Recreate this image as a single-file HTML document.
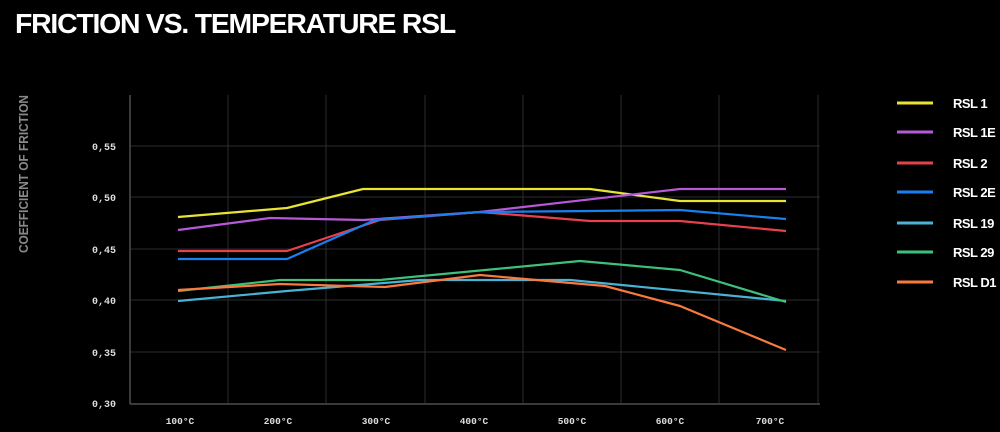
<!DOCTYPE html>
<html><head><meta charset="utf-8"><style>
html,body{margin:0;padding:0;background:#000;width:1000px;height:432px;overflow:hidden}
</style></head><body>
<svg width="1000" height="432" xmlns="http://www.w3.org/2000/svg" font-family="Liberation Sans, sans-serif">
<rect width="1000" height="432" fill="#000"/>
<text x="15" y="33" fill="#fff" font-size="28" font-weight="bold" letter-spacing="-1.2" textLength="440" lengthAdjust="spacingAndGlyphs">FRICTION VS. TEMPERATURE RSL</text>
<text transform="translate(28,253) rotate(-90)" fill="#8a8a8a" font-size="12.5" font-weight="bold" textLength="158" lengthAdjust="spacingAndGlyphs">COEFFICIENT OF FRICTION</text>
<g stroke="#2a2d31" stroke-width="1">
<line x1="130" y1="146" x2="820" y2="146"/><line x1="130" y1="197" x2="820" y2="197"/><line x1="130" y1="249" x2="820" y2="249"/><line x1="130" y1="300" x2="820" y2="300"/><line x1="130" y1="352" x2="820" y2="352"/>
<line x1="228" y1="95" x2="228" y2="403"/><line x1="326" y1="95" x2="326" y2="403"/><line x1="425" y1="95" x2="425" y2="403"/><line x1="523" y1="95" x2="523" y2="403"/><line x1="621" y1="95" x2="621" y2="403"/><line x1="719" y1="95" x2="719" y2="403"/><line x1="818" y1="95" x2="818" y2="403"/>
</g>
<g stroke="#4a4d52" stroke-width="1.5"><line x1="130" y1="95" x2="130" y2="404"/><line x1="130" y1="404" x2="820" y2="404"/></g>
<g fill="#ddd" font-family="Liberation Mono, monospace" font-size="10" font-weight="bold" text-anchor="end">
<text x="116" y="150">0,55</text><text x="116" y="201">0,50</text><text x="116" y="253">0,45</text><text x="116" y="304">0,40</text><text x="116" y="356">0,35</text><text x="116" y="407">0,30</text>
</g>
<g fill="#ddd" font-family="Liberation Mono, monospace" font-size="9.5" font-weight="bold" text-anchor="middle">
<text x="180" y="424">100°C</text><text x="278" y="424">200°C</text><text x="376" y="424">300°C</text><text x="474" y="424">400°C</text><text x="572" y="424">500°C</text><text x="670" y="424">600°C</text><text x="770" y="424">700°C</text>
</g>
<g fill="none" stroke-width="2.2" stroke-linejoin="round">
<polyline stroke="#e8e334" points="178,217 287,208 363,189 590,189 680,201 786,201"/>
<polyline stroke="#b659d6" points="178,230 270,218 363,220 480,212 680,189 786,189"/>
<polyline stroke="#e8414e" points="178,251 287,251 380,220 480,212 590,221 680,221 786,231"/>
<polyline stroke="#1a7fef" points="178,259 287,259 375,220 480,212 590,211 680,210 786,219"/>
<polyline stroke="#4ab3d5" points="178,301 287,291 420,280 570,280 786,301"/>
<polyline stroke="#3ec07a" points="178,291 280,280 380,280 580,261 680,270 786,302"/>
<polyline stroke="#f97a3f" points="178,290 280,284 385,287 480,275 605,286 680,306 786,350"/>
</g>
<g stroke-width="3">
<line x1="897" y1="103" x2="933" y2="103" stroke="#e8e334"/>
<line x1="897" y1="132" x2="933" y2="132" stroke="#b659d6"/>
<line x1="897" y1="163" x2="933" y2="163" stroke="#e8414e"/>
<line x1="897" y1="192" x2="933" y2="192" stroke="#1a7fef"/>
<line x1="897" y1="223" x2="933" y2="223" stroke="#4ab3d5"/>
<line x1="897" y1="252" x2="933" y2="252" stroke="#3ec07a"/>
<line x1="897" y1="282" x2="933" y2="282" stroke="#f97a3f"/>
</g>
<g fill="#fff" font-size="13" font-weight="bold" letter-spacing="-0.5">
<text x="953" y="108">RSL 1</text><text x="953" y="137">RSL 1E</text><text x="953" y="168">RSL 2</text><text x="953" y="197">RSL 2E</text><text x="953" y="228">RSL 19</text><text x="953" y="257">RSL 29</text><text x="953" y="287">RSL D1</text>
</g>
</svg>
</body></html>
